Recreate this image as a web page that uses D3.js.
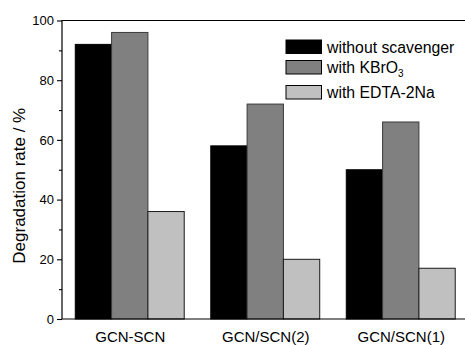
<!DOCTYPE html>
<html>
<head>
<meta charset="utf-8">
<script src="https://cdn.jsdelivr.net/npm/d3@7"></script>
<style>
  html, body { margin: 0; padding: 0; background: #fff; }
  svg { display: block; font-family: "Liberation Sans", Arial, sans-serif; }
</style>
</head>
<body>
<svg id="chart" width="465" height="345"></svg>
<script>
// Samples and scavenger conditions
const categories = ["GCN-SCN", "GCN/SCN(2)", "GCN/SCN(1)"];
const seriesNames = ["without scavenger", "with KBrO3", "with EDTA-2Na"];
// Degradation rate (%) per sample, one array per condition
const withoutScavenger = [92, 58, 50];
const withKBrO3 = [96, 72, 66];
const withEDTA = [36, 20, 17];
const yTicks = [0, 20, 40, 60, 80, 100];
const yMinorTicks = [10, 30, 50, 70, 90];

const series = [withoutScavenger, withKBrO3, withEDTA];
const fills = ["#000000", "#808080", "#c0c0c0"];
const strokes = ["#000000", "#3a3a3a", "#1a1a1a"];

const svg = d3.select("#chart");
const plotLeft = 62, plotTop = 20.5, plotBottom = 319, plotRight = 468.5;

const x = d3.scaleLinear().domain([0.5, 3.5]).range([plotLeft, plotRight]);
const y = d3.scaleLinear().domain([0, 100]).range([plotBottom, plotTop]);
const barW = 0.268; // bar width in category units

// bars
series.forEach((vals, si) => {
  svg.append("g")
    .selectAll("rect")
    .data(vals)
    .join("rect")
    .attr("x", (d, i) => x(i + 1 + (si - 1.5) * barW))
    .attr("width", x(barW) - x(0))
    .attr("y", d => y(d))
    .attr("height", d => y(0) - y(d))
    .attr("fill", fills[si])
    .attr("stroke", strokes[si])
    .attr("stroke-width", 1);
});

// frame: top line continues past the right edge
svg.append("path")
  .attr("d", `M${plotLeft},${plotBottom}V${plotTop}H${plotRight}`)
  .attr("fill", "none").attr("stroke", "#000").attr("stroke-width", 1.2);

// y axis
const yAxis = d3.axisLeft(y).tickValues(yTicks).tickSize(5).tickPadding(3);
const gy = svg.append("g").attr("transform", `translate(${plotLeft},0)`).call(yAxis);
gy.select(".domain").remove();
gy.selectAll(".tick line").attr("stroke", "#000").attr("stroke-width", 1.1);
gy.selectAll(".tick text")
  .attr("font-family", "Liberation Sans, Arial, sans-serif")
  .attr("font-size", 13).attr("fill", "#000");

const gyMinor = svg.append("g").attr("transform", `translate(${plotLeft},0)`)
  .call(d3.axisLeft(y).tickValues(yMinorTicks).tickSize(3).tickFormat(""));
gyMinor.select(".domain").remove();
gyMinor.selectAll(".tick line").attr("stroke", "#000").attr("stroke-width", 1.1);

// x axis
const gx = svg.append("g").attr("transform", `translate(0,${plotBottom})`)
  .call(d3.axisBottom(x).tickValues([1, 2, 3]).tickSize(0).tickPadding(12)
    .tickFormat((d) => categories[d - 1]));
gx.select(".domain").attr("stroke", "#000").attr("stroke-width", 1.2)
  .attr("d", `M${plotLeft},0H${plotRight}`);
gx.selectAll(".tick text")
  .attr("font-family", "Liberation Sans, Arial, sans-serif")
  .attr("font-size", 15).attr("fill", "#000");

// y axis title
svg.append("text")
  .attr("transform", `translate(25,${(plotTop + plotBottom) / 2 + 16}) rotate(-90)`)
  .attr("text-anchor", "middle")
  .attr("font-size", 17)
  .text("Degradation rate / %");

// legend
const legend = svg.append("g");
const rowY = [40, 60.5, 85.5];
seriesNames.forEach((name, i) => {
  legend.append("rect")
    .attr("x", 286).attr("y", rowY[i])
    .attr("width", 35.5).attr("height", 13.5)
    .attr("fill", fills[i]).attr("stroke", "#000").attr("stroke-width", 1);
  const t = legend.append("text")
    .attr("x", 327).attr("y", rowY[i] + 12.5)
    .attr("font-size", 15.8);
  if (name === "with KBrO3") {
    t.append("tspan").text("with KBrO");
    t.append("tspan").attr("font-size", 10).attr("dy", 4).text("3");
  } else {
    t.text(name);
  }
});
</script>
</body>
</html>
